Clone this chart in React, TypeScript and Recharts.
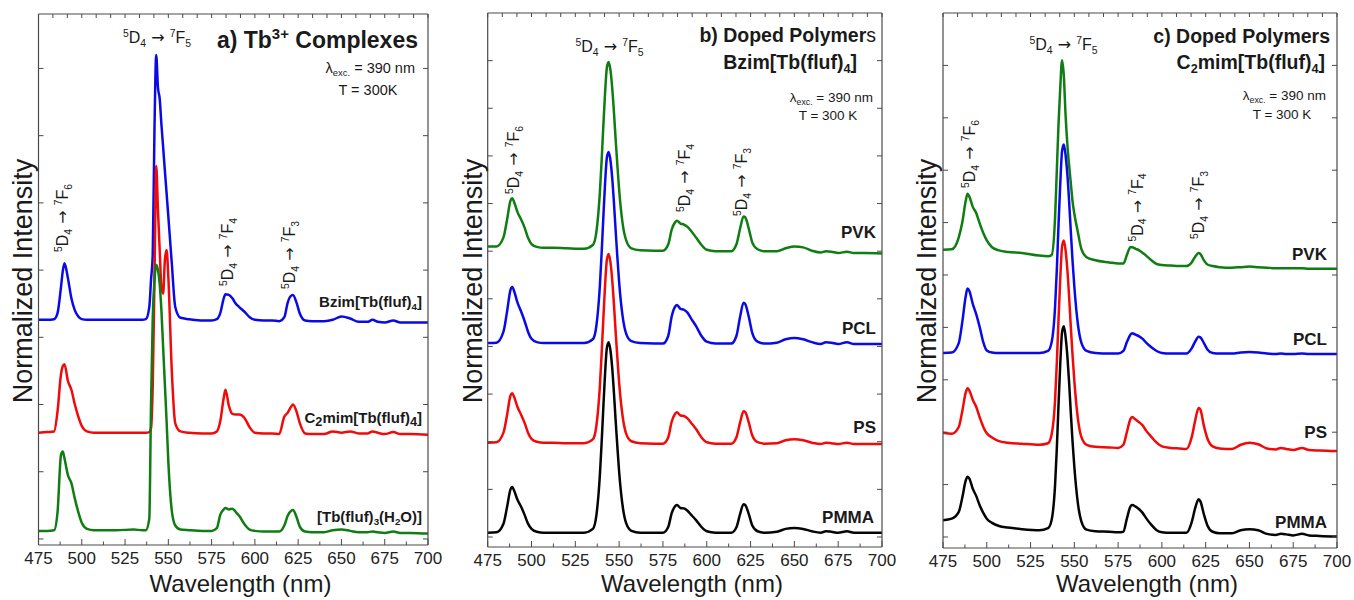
import React from 'react';
import { LineChart, Line, XAxis, YAxis } from 'recharts';

const FONT = '"Liberation Sans", Arial, Helvetica, sans-serif';
const ARROW_FONT = '"DejaVu Sans", "Liberation Sans", sans-serif';
const AXIS = '#4a4a4a';
const TEXT = '#1a1a1a';

// Shared wavelength grid (nm) for every spectrum
const WAVELENGTH = [
  475, 480, 484, 486, 488, 489, 490, 492, 494, 496,
  498, 500, 503, 507, 512, 520, 530, 535, 537, 539,
  540, 541, 542, 543, 544, 545, 546, 547, 548, 549,
  550, 552, 554, 557, 562, 570, 575, 578, 580, 582,
  583, 585, 587, 589, 591, 594, 597, 600, 605, 610,
  614, 617, 619, 621, 622, 624, 626, 629, 633, 640,
  645, 650, 655, 660, 665, 668, 671, 675, 680, 684,
  690, 700,
];

const X_TICKS = [475, 500, 525, 550, 575, 600, 625, 650, 675, 700];
const X_MINOR_TICKS = [487.5, 512.5, 537.5, 562.5, 587.5, 612.5, 637.5, 662.5, 687.5];
const X_TOP_TICKS = [
  475, 483.33, 491.67, 500, 508.33, 516.67, 525, 533.33, 541.67, 550,
  558.33, 566.67, 575, 583.33, 591.67, 600, 608.33, 616.67, 625, 633.33,
  641.67, 650, 658.33, 666.67, 675, 683.33, 691.67, 700,
];
const X_BOTTOM_TICKS = [...X_TICKS, ...X_MINOR_TICKS].sort((a, b) => a - b);

// a) Tb3+ complexes (vertically offset, normalized)
const A_BZIM = [
  3.26, 3.26, 3.27, 3.36, 3.75, 3.98, 4.10, 3.88, 3.58, 3.40,
  3.31, 3.27, 3.26, 3.26, 3.26, 3.26, 3.26, 3.26, 3.27, 3.45,
  3.85, 4.25, 6.10, 7.20, 6.72, 6.55, 6.17, 5.83, 5.48, 5.14,
  4.80, 4.10, 3.45, 3.29, 3.27, 3.25, 3.25, 3.27, 3.36, 3.58,
  3.64, 3.63, 3.58, 3.50, 3.45, 3.38, 3.30, 3.26, 3.25, 3.25,
  3.24, 3.30, 3.52, 3.62, 3.63, 3.52, 3.35, 3.25, 3.24, 3.24,
  3.26, 3.31, 3.28, 3.23, 3.23, 3.26, 3.23, 3.22, 3.25, 3.22,
  3.22, 3.22,
];
const A_C2MIM = [
  1.58, 1.59, 1.60, 1.90, 2.45, 2.57, 2.60, 2.35, 2.22, 2.00,
  1.82, 1.68, 1.60, 1.58, 1.58, 1.58, 1.58, 1.58, 1.58, 1.59,
  1.65, 2.30, 3.90, 5.55, 4.90, 4.30, 3.75, 3.65, 4.15, 4.30,
  3.90, 2.50, 1.72, 1.60, 1.58, 1.57, 1.57, 1.60, 1.75, 2.10,
  2.22, 1.98, 1.86, 1.85, 1.85, 1.80, 1.66, 1.58, 1.57, 1.57,
  1.56, 1.82, 1.88, 1.97, 2.00, 1.90, 1.72, 1.57, 1.56, 1.56,
  1.60, 1.58, 1.60, 1.57, 1.57, 1.60, 1.58, 1.56, 1.59, 1.56,
  1.56, 1.55,
];
const A_TB_H2O = [
  0.12, 0.12, 0.13, 0.40, 1.25, 1.30, 1.20, 0.95, 0.83, 0.60,
  0.40, 0.24, 0.15, 0.13, 0.13, 0.13, 0.14, 0.13, 0.13, 0.30,
  2.00, 3.30, 3.85, 4.08, 4.00, 3.80, 3.40, 2.85, 2.30, 1.75,
  1.15, 0.42, 0.20, 0.14, 0.13, 0.12, 0.12, 0.16, 0.36, 0.44,
  0.46, 0.44, 0.45, 0.40, 0.34, 0.22, 0.14, 0.12, 0.11, 0.11,
  0.11, 0.20, 0.35, 0.42, 0.43, 0.33, 0.18, 0.11, 0.10, 0.10,
  0.13, 0.14, 0.12, 0.10, 0.10, 0.11, 0.10, 0.09, 0.11, 0.09,
  0.09, 0.08,
];

// b) Bzim[Tb(fluf)4] doped polymers
const B_PVK = [
  6.10, 6.10, 6.29, 6.65, 7.06, 7.11, 7.04, 6.82, 6.67, 6.50,
  6.28, 6.15, 6.09, 6.07, 6.07, 6.06, 6.05, 6.13, 6.40, 7.23,
  7.89, 8.64, 9.34, 9.85, 9.97, 9.81, 9.45, 8.94, 8.35, 7.80,
  7.29, 6.58, 6.23, 6.06, 6.02, 6.01, 6.01, 6.14, 6.45, 6.61,
  6.64, 6.58, 6.56, 6.51, 6.43, 6.28, 6.13, 6.03, 6.00, 6.00,
  6.00, 6.15, 6.47, 6.73, 6.71, 6.47, 6.18, 6.04, 6.00, 6.00,
  6.06, 6.10, 6.08, 6.01, 5.97, 6.00, 5.99, 5.96, 5.99, 5.96,
  5.96, 5.95,
];
const B_PCL = [
  4.07, 4.08, 4.31, 4.72, 5.19, 5.25, 5.17, 4.92, 4.74, 4.54,
  4.31, 4.16, 4.09, 4.07, 4.07, 4.07, 4.07, 4.15, 4.43, 5.27,
  5.95, 6.72, 7.44, 7.96, 8.08, 7.92, 7.56, 7.04, 6.44, 5.87,
  5.35, 4.63, 4.27, 4.11, 4.07, 4.06, 4.06, 4.22, 4.63, 4.84,
  4.87, 4.79, 4.77, 4.71, 4.59, 4.42, 4.22, 4.10, 4.06, 4.06,
  4.06, 4.23, 4.62, 4.92, 4.89, 4.62, 4.28, 4.10, 4.06, 4.08,
  4.15, 4.18, 4.15, 4.09, 4.05, 4.09, 4.08, 4.05, 4.09, 4.05,
  4.05, 4.05,
];
const B_PS = [
  1.98, 1.99, 2.19, 2.55, 2.97, 3.02, 2.95, 2.73, 2.57, 2.40,
  2.19, 2.06, 2.00, 1.98, 1.98, 1.97, 1.97, 2.05, 2.33, 3.16,
  3.84, 4.59, 5.30, 5.82, 5.94, 5.78, 5.42, 4.91, 4.31, 3.76,
  3.24, 2.53, 2.17, 2.01, 1.97, 1.96, 1.96, 2.09, 2.42, 2.59,
  2.62, 2.55, 2.54, 2.49, 2.40, 2.26, 2.09, 1.99, 1.96, 1.96,
  1.96, 2.10, 2.40, 2.64, 2.62, 2.40, 2.13, 1.99, 1.96, 1.97,
  2.03, 2.05, 2.03, 1.98, 1.95, 1.98, 1.97, 1.95, 1.98, 1.95,
  1.95, 1.95,
];
const B_PMMA = [
  0.09, 0.10, 0.28, 0.62, 1.00, 1.05, 0.98, 0.78, 0.64, 0.47,
  0.28, 0.17, 0.11, 0.09, 0.09, 0.09, 0.09, 0.17, 0.45, 1.29,
  1.97, 2.73, 3.45, 3.97, 4.09, 3.93, 3.57, 3.05, 2.45, 1.89,
  1.37, 0.65, 0.29, 0.13, 0.09, 0.09, 0.09, 0.21, 0.50, 0.65,
  0.67, 0.61, 0.60, 0.55, 0.47, 0.35, 0.21, 0.12, 0.09, 0.09,
  0.09, 0.21, 0.48, 0.69, 0.67, 0.48, 0.24, 0.12, 0.09, 0.11,
  0.17, 0.19, 0.17, 0.12, 0.09, 0.12, 0.11, 0.09, 0.12, 0.09,
  0.09, 0.09,
];

// c) C2mim[Tb(fluf)4] doped polymers
const C_PVK = [
  5.48, 5.49, 5.72, 6.00, 6.42, 6.55, 6.50, 6.30, 6.18, 5.98,
  5.80, 5.66, 5.53, 5.47, 5.44, 5.42, 5.37, 5.36, 5.38, 6.10,
  7.00, 7.90, 8.60, 9.10, 8.80, 8.05, 7.50, 7.10, 6.75, 6.40,
  6.17, 5.82, 5.50, 5.34, 5.28, 5.24, 5.22, 5.22, 5.38, 5.53,
  5.53, 5.50, 5.47, 5.42, 5.37, 5.28, 5.21, 5.19, 5.18, 5.17,
  5.17, 5.24, 5.35, 5.42, 5.40, 5.28, 5.20, 5.17, 5.15, 5.14,
  5.15, 5.16, 5.15, 5.14, 5.13, 5.13, 5.13, 5.13, 5.13, 5.12,
  5.12, 5.12,
];
const C_PCL = [
  3.51, 3.52, 3.70, 4.10, 4.60, 4.74, 4.70, 4.45, 4.25, 4.00,
  3.72, 3.56, 3.52, 3.51, 3.51, 3.51, 3.51, 3.55, 3.71, 4.39,
  5.10, 5.98, 6.77, 7.37, 7.49, 7.29, 6.93, 6.42, 5.82, 5.26,
  4.78, 4.07, 3.71, 3.55, 3.51, 3.50, 3.50, 3.55, 3.72, 3.86,
  3.89, 3.86, 3.83, 3.78, 3.71, 3.62, 3.55, 3.51, 3.50, 3.50,
  3.50, 3.60, 3.73, 3.82, 3.81, 3.70, 3.58, 3.51, 3.50, 3.50,
  3.52, 3.53, 3.52, 3.50, 3.49, 3.50, 3.49, 3.49, 3.50, 3.49,
  3.49, 3.49,
];
const C_PS = [
  1.99, 1.97, 2.10, 2.40, 2.76, 2.84, 2.80, 2.62, 2.48, 2.28,
  2.10, 1.98, 1.90, 1.83, 1.80, 1.78, 1.76, 1.79, 1.95, 2.61,
  3.32, 4.18, 4.96, 5.55, 5.66, 5.47, 5.11, 4.60, 4.00, 3.46,
  2.98, 2.27, 1.91, 1.76, 1.72, 1.71, 1.70, 1.76, 2.00, 2.25,
  2.29, 2.24, 2.19, 2.13, 2.03, 1.91, 1.80, 1.73, 1.70, 1.69,
  1.68, 1.90, 2.22, 2.46, 2.43, 2.12, 1.88, 1.73, 1.69, 1.68,
  1.76, 1.80, 1.77, 1.69, 1.67, 1.70, 1.68, 1.66, 1.70, 1.66,
  1.65, 1.64,
];
const C_PMMA = [
  0.32, 0.35, 0.48, 0.75, 1.08, 1.15, 1.12, 0.92, 0.78, 0.60,
  0.46, 0.35, 0.27, 0.21, 0.18, 0.15, 0.13, 0.17, 0.32, 0.99,
  1.69, 2.55, 3.33, 3.91, 4.02, 3.82, 3.46, 2.96, 2.36, 1.81,
  1.34, 0.65, 0.30, 0.14, 0.11, 0.10, 0.09, 0.10, 0.35, 0.58,
  0.61, 0.58, 0.53, 0.46, 0.36, 0.23, 0.13, 0.09, 0.08, 0.08,
  0.08, 0.28, 0.55, 0.72, 0.68, 0.43, 0.22, 0.10, 0.07, 0.07,
  0.13, 0.15, 0.13, 0.06, 0.04, 0.06, 0.05, 0.03, 0.06, 0.03,
  0.02, 0.01,
];

const BLUE = '#0a0ae8';
const RED = '#f00a0a';
const GREEN = '#0f7d12';
const BLACK = '#050505';

type Series = { key: string; values: number[]; color: string };
type Margin = { top: number; right: number; bottom: number; left: number };

// Inward-pointing tick marks; labels only on the major bottom ticks
function BottomTick(props: any) {
  const { x, y, payload } = props;
  const major = X_TICKS.includes(payload.value);
  return (
    <g>
      <line x1={x} x2={x} y1={y} y2={y - (major ? 6 : 3.5)} stroke={AXIS} strokeWidth={1} />
      {major && (
        <text x={x} y={y + 19} textAnchor="middle" fontSize={17} fill="#222" fontFamily={FONT}>
          {payload.value}
        </text>
      )}
    </g>
  );
}
function TopTick(props: any) {
  const { x, y } = props;
  return <line x1={x} x2={x} y1={y} y2={y + 4} stroke={AXIS} strokeWidth={1} />;
}
function LeftTick(props: any) {
  const { x, y } = props;
  return <line x1={x} x2={x + 5} y1={y} y2={y} stroke={AXIS} strokeWidth={1} />;
}
function RightTick(props: any) {
  const { x, y } = props;
  return <line x1={x} x2={x - 5} y1={y} y2={y} stroke={AXIS} strokeWidth={1} />;
}

function SpectraPanel(props: {
  left: number;
  width: number;
  margin: Margin;
  yDomain: [number, number];
  yTicks: number[];
  series: Series[];
}) {
  const { left, width, margin, yDomain, yTicks, series } = props;
  const data = WAVELENGTH.map((wl, i) => {
    const row: Record<string, number> = { wl };
    series.forEach((s) => {
      row[s.key] = s.values[i];
    });
    return row;
  });
  const frame = { stroke: AXIS, strokeWidth: 1.2 };
  return (
    <div style={{ position: 'absolute', left, top: 0 }}>
      <LineChart width={width} height={600} data={data} margin={margin}>
        <XAxis
          xAxisId="wl"
          dataKey="wl"
          type="number"
          domain={[475, 700]}
          allowDataOverflow
          ticks={X_BOTTOM_TICKS}
          interval={0}
          height={1}
          tickSize={0}
          tickMargin={0}
          axisLine={frame}
          tickLine={false}
          tick={BottomTick}
        />
        <XAxis
          xAxisId="top"
          orientation="top"
          dataKey="wl"
          type="number"
          domain={[475, 700]}
          allowDataOverflow
          ticks={X_TOP_TICKS}
          interval={0}
          height={1}
          tickSize={0}
          tickMargin={0}
          axisLine={frame}
          tickLine={false}
          tick={TopTick}
        />
        <YAxis
          yAxisId="v"
          type="number"
          domain={yDomain}
          allowDataOverflow
          ticks={yTicks}
          interval={0}
          width={1}
          tickSize={0}
          tickMargin={0}
          axisLine={frame}
          tickLine={false}
          tick={LeftTick}
        />
        <YAxis
          yAxisId="r"
          orientation="right"
          type="number"
          domain={yDomain}
          allowDataOverflow
          ticks={yTicks}
          interval={0}
          width={1}
          tickSize={0}
          tickMargin={0}
          axisLine={frame}
          tickLine={false}
          tick={RightTick}
        />
        {series.map((s) => (
          <Line
            key={s.key}
            xAxisId="wl"
            yAxisId="v"
            dataKey={s.key}
            type="monotone"
            stroke={s.color}
            strokeWidth={2.5}
            dot={false}
            activeDot={false}
            isAnimationActive={false}
          />
        ))}
      </LineChart>
    </div>
  );
}

type Part = { t: string; v?: 'sup' | 'sub'; w?: number; f?: string };

function Rich(props: {
  x: number;
  y: number;
  parts: Part[];
  size: number;
  anchor?: 'start' | 'middle' | 'end';
  weight?: number;
  rotate?: boolean;
  scriptScale?: number;
}) {
  const { x, y, parts, size, anchor = 'start', weight = 400, rotate = false, scriptScale = 0.65 } = props;
  let shift = 0;
  const spans = parts.map((p, i) => {
    const target = p.v === 'sup' ? -0.38 * size : p.v === 'sub' ? 0.22 * size : 0;
    const dy = target - shift;
    shift = target;
    return (
      <tspan
        key={i}
        dy={dy}
        fontSize={p.v ? size * scriptScale : size}
        fontWeight={p.w}
        fontFamily={p.f}
      >
        {p.t}
      </tspan>
    );
  });
  return (
    <text
      x={x}
      y={y}
      fontSize={size}
      fontFamily={FONT}
      fontWeight={weight}
      fill={TEXT}
      textAnchor={anchor}
      transform={rotate ? `rotate(-90 ${x} ${y})` : undefined}
    >
      {spans}
    </text>
  );
}

const transition = (j: string): Part[] => [
  { t: '5', v: 'sup' },
  { t: 'D' },
  { t: '4', v: 'sub' },
  { t: ' \u2192 ', f: ARROW_FONT },
  { t: '7', v: 'sup' },
  { t: 'F' },
  { t: j, v: 'sub' },
];

const excitation: Part[] = [{ t: '\u03bb' }, { t: 'exc.', v: 'sub' }, { t: ' = 390 nm' }];

function Annotations() {
  const ts = 16;
  const rot = (cx: number, cy: number, j: string) => (
    <Rich x={cx + 5} y={cy} parts={transition(j)} size={ts} anchor="middle" rotate />
  );
  return (
    <svg
      width={1354}
      height={600}
      style={{ position: 'absolute', left: 0, top: 0, pointerEvents: 'none' }}
    >
      {/* axis titles */}
      {[31.5, 482, 936].map((x) => (
        <text
          key={x}
          x={x}
          y={281}
          fontSize={27}
          fontFamily={FONT}
          fill={TEXT}
          textAnchor="middle"
          transform={`rotate(-90 ${x} 281)`}
        >
          Normalized Intensity
        </text>
      ))}
      {[240.5, 692, 1147].map((x) => (
        <text key={x} x={x} y={592} fontSize={24} fontFamily={FONT} fill={TEXT} textAnchor="middle">
          Wavelength (nm)
        </text>
      ))}

      {/* panel a */}
      <Rich x={157} y={43} parts={transition('5')} size={ts} anchor="middle" />
      {rot(63, 218, '6')}
      {rot(228, 252, '4')}
      {rot(290, 255, '3')}
      <Rich
        x={418}
        y={48}
        size={23}
        weight={700}
        anchor="end"
        parts={[{ t: 'a) Tb' }, { t: '3+', v: 'sup' }, { t: ' Complexes' }]}
      />
      <Rich x={415} y={73} size={14.5} anchor="end" parts={excitation} />
      <Rich x={368} y={95} size={14.5} anchor="middle" parts={[{ t: 'T = 300K' }]} />
      <Rich
        x={422}
        y={307}
        size={15}
        weight={700}
        anchor="end"
        parts={[{ t: 'Bzim[Tb(fluf)' }, { t: '4', v: 'sub' }, { t: ']' }]}
      />
      <Rich
        x={422}
        y={423}
        size={15}
        weight={700}
        anchor="end"
        scriptScale={0.85}
        parts={[{ t: 'C' }, { t: '2', v: 'sub' }, { t: 'mim[Tb(fluf)' }, { t: '4', v: 'sub' }, { t: ']' }]}
      />
      <Rich
        x={422}
        y={522}
        size={15}
        weight={700}
        anchor="end"
        parts={[
          { t: '[Tb(fluf)' },
          { t: '3', v: 'sub' },
          { t: '(H' },
          { t: '2', v: 'sub' },
          { t: 'O)]' },
        ]}
      />

      {/* panel b */}
      <Rich x={609.5} y={52} parts={transition('5')} size={ts} anchor="middle" />
      {rot(514, 160, '6')}
      {rot(685, 178, '4')}
      {rot(742, 182, '3')}
      <Rich
        x={876}
        y={42}
        size={19.5}
        weight={700}
        anchor="end"
        parts={[{ t: 'b) Doped Polymer' }, { t: 's', w: 400 }]}
      />
      <Rich
        x={857}
        y={69}
        size={19.5}
        weight={700}
        anchor="end"
        parts={[{ t: 'Bzim[Tb(fluf)' }, { t: '4', v: 'sub' }, { t: ']' }]}
      />
      <Rich x={873} y={102} size={13.5} anchor="end" parts={excitation} />
      <Rich x={828} y={120} size={13.5} anchor="middle" parts={[{ t: 'T = 300 K' }]} />
      <Rich x={876} y={238} size={17} weight={700} anchor="end" parts={[{ t: 'PVK' }]} />
      <Rich x={876} y={334} size={17} weight={700} anchor="end" parts={[{ t: 'PCL' }]} />
      <Rich x={876} y={433} size={17} weight={700} anchor="end" parts={[{ t: 'PS' }]} />
      <Rich x={874} y={523} size={17} weight={700} anchor="end" parts={[{ t: 'PMMA' }]} />

      {/* panel c */}
      <Rich x={1063.5} y={50} parts={transition('5')} size={ts} anchor="middle" />
      {rot(970, 154, '6')}
      {rot(1137.5, 207.5, '4')}
      {rot(1199, 205, '3')}
      <Rich
        x={1330}
        y={43}
        size={19.5}
        weight={700}
        anchor="end"
        parts={[{ t: 'c) Doped Polymers' }]}
      />
      <Rich
        x={1325}
        y={69}
        size={19.5}
        weight={700}
        anchor="end"
        parts={[{ t: 'C' }, { t: '2', v: 'sub' }, { t: 'mim[Tb(fluf)' }, { t: '4', v: 'sub' }, { t: ']' }]}
      />
      <Rich x={1326} y={100} size={13.5} anchor="end" parts={excitation} />
      <Rich x={1282} y={119} size={13.5} anchor="middle" parts={[{ t: 'T = 300 K' }]} />
      <Rich x={1327} y={260} size={17} weight={700} anchor="end" parts={[{ t: 'PVK' }]} />
      <Rich x={1327} y={345} size={17} weight={700} anchor="end" parts={[{ t: 'PCL' }]} />
      <Rich x={1327} y={438} size={17} weight={700} anchor="end" parts={[{ t: 'PS' }]} />
      <Rich x={1327} y={528} size={17} weight={700} anchor="end" parts={[{ t: 'PMMA' }]} />
    </svg>
  );
}

export default function App() {
  return (
    <div
      style={{
        position: 'absolute',
        left: 0,
        top: 0,
        width: 1354,
        height: 600,
        background: '#fff',
        overflow: 'hidden',
      }}
    >
      <SpectraPanel
        left={0}
        width={445}
        margin={{ top: 13, right: 16, bottom: 54, left: 37.5 }}
        yDomain={[-0.09, 7.81]}
        yTicks={[0, 1, 2, 3, 4, 5, 6, 7]}
        series={[
          { key: 'bzim', values: A_BZIM, color: BLUE },
          { key: 'c2mim', values: A_C2MIM, color: RED },
          { key: 'tbh2o', values: A_TB_H2O, color: GREEN },
        ]}
      />
      <SpectraPanel
        left={470}
        width={430}
        margin={{ top: 12, right: 17, bottom: 52, left: 16.7 }}
        yDomain={[-0.21, 11]}
        yTicks={[0, 1, 2, 3, 4, 5, 6, 7, 8, 9, 10]}
        series={[
          { key: 'pvk', values: B_PVK, color: GREEN },
          { key: 'pcl', values: B_PCL, color: BLUE },
          { key: 'ps', values: B_PS, color: RED },
          { key: 'pmma', values: B_PMMA, color: BLACK },
        ]}
      />
      <SpectraPanel
        left={925}
        width={429}
        margin={{ top: 12, right: 16, bottom: 51, left: 17 }}
        yDomain={[-0.21, 10]}
        yTicks={[0, 1, 2, 3, 4, 5, 6, 7, 8, 9]}
        series={[
          { key: 'pvk', values: C_PVK, color: GREEN },
          { key: 'pcl', values: C_PCL, color: BLUE },
          { key: 'ps', values: C_PS, color: RED },
          { key: 'pmma', values: C_PMMA, color: BLACK },
        ]}
      />
      <Annotations />
    </div>
  );
}
